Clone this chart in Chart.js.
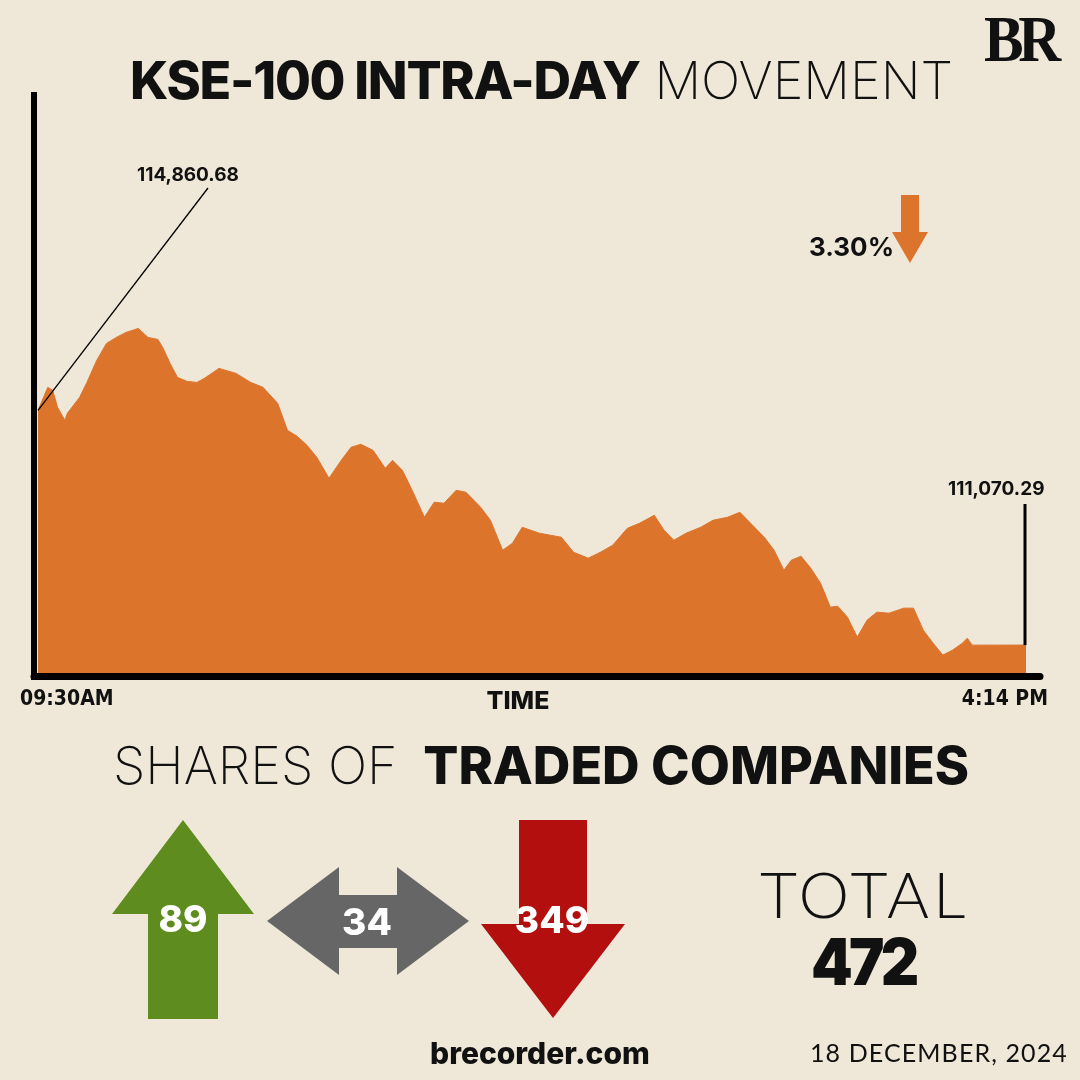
<!DOCTYPE html>
<html>
<head>
<meta charset="utf-8">
<script src="https://cdn.jsdelivr.net/npm/chart.js@4.4.1/dist/chart.umd.min.js"></script>
<style>
  body { margin: 0; background: #efe8d8; }
  #page { position: relative; width: 1080px; height: 1080px; overflow: hidden; background: #efe8d8; font-family: Inter, "Noto Sans", sans-serif; color: #111; }
  .abs { position: absolute; white-space: nowrap; line-height: 1; }
  #chartBox { position: absolute; left: 0; top: 0; width: 1080px; height: 700px; }
  .bold { font-weight: 800; }
  .light { font-weight: 200; }
  .cond { font-family: "Liberation Sans Narrow", "DejaVu Sans Condensed", sans-serif; font-weight: 700; font-size: 21px; }
  .num { color: #fff; font-weight: 800; font-size: 37px; transform: translate(-50%, -50%); }
</style>
</head>
<body>
<div id="page">
  <div id="chartBox"><canvas id="kseChart"></canvas></div>

  <div class="abs" style="left:984px; top:6px; font-family:'Liberation Serif',serif; font-weight:700; font-size:66px; letter-spacing:-6px; transform:scaleX(0.9); transform-origin:left;">BR</div>
  <div class="abs" style="left:130px; top:55px; font-size:52px;"><span class="bold" style="letter-spacing:-1.3px;">KSE-100 INTRA-DAY</span> <span class="light">MOVEMENT</span></div>

  <div class="abs" style="left:137px; top:165px; font-size:19px; font-weight:700;">114,860.68</div>
  <div class="abs" style="left:948px; top:479px; font-size:19px; font-weight:700;">111,070.29</div>
  <div class="abs" style="left:809px; top:234px; font-size:26px; font-weight:700;">3.30%</div>
  <svg class="abs" style="left:0; top:0;" width="1080" height="1080">
    <polygon points="901,195 919,195 919,232 928,232 910,263 892,232 901,232" fill="#dc742c"/>
    <polygon points="183,820 254,914 218,914 218,1019 148,1019 148,914 112,914" fill="#5f8c1e"/>
    <polygon points="267,921 339,867 339,895 397,895 397,867 469,921 397,975 397,948 339,948 339,975" fill="#666666"/>
    <polygon points="519,820 587,820 587,924 625,924 553,1018 481,924 519,924" fill="#b30f0f"/>
  </svg>
  <div class="abs num" style="left:183px; top:918px;">89</div>
  <div class="abs num" style="left:367px; top:921px;">34</div>
  <div class="abs num" style="left:552px; top:919px;">349</div>

  <div class="abs cond" style="left:20px; top:688px;">09:30AM</div>
  <div class="abs" style="left:518px; top:688px; font-size:25px; font-weight:800; transform:translateX(-50%);">TIME</div>
  <div class="abs cond" style="right:32px; top:688px;">4:14 PM</div>

  <div class="abs" style="left:113px; top:740px; font-size:52px;"><span class="light">SHARES OF</span> <span class="bold" style="margin-left:11px;">TRADED COMPANIES</span></div>

  <div class="abs" style="left:760px; top:862px; font-family:Lato,sans-serif; font-weight:300; font-size:64px; letter-spacing:4px;">TOTAL</div>
  <div class="abs" style="left:811px; top:930px; font-size:64px; font-weight:900; letter-spacing:-4px; transform:scaleX(0.93); transform-origin:left;">472</div>
  <div class="abs" style="left:430px; top:1038px; font-size:30px; font-weight:800;">brecorder.com</div>
  <div class="abs" style="left:810px; top:1040px; font-family:Lato,sans-serif; font-size:25px; letter-spacing:1.1px;">18 DECEMBER, 2024</div>
</div>

<script>
// KSE-100 intraday readings
const timeLabels = ['09:30','09:34','09:36','09:38','09:41','09:42','09:47','09:50','09:54','09:58',
  '10:02','10:06','10:11','10:15','10:19','10:21','10:24','10:27','10:31','10:35',
  '10:38','10:44','10:51','10:57','11:02','11:08','11:12','11:16','11:20','11:24',
  '11:29','11:34','11:38','11:42','11:47','11:52','11:55','11:59','12:03','12:08',
  '12:12','12:16','12:21','12:25','12:31','12:35','12:40','12:44','12:48','12:55',
  '13:04','13:09','13:15','13:20','13:25','13:31','13:36','13:42','13:46','13:50',
  '13:55','14:01','14:06','14:12','14:17','14:21','14:27','14:31','14:35','14:38',
  '14:42','14:46','14:50','14:54','14:57','15:01','15:05','15:09','15:13','15:18',
  '15:24','15:28','15:32','15:36','15:40','15:44','15:48','15:50','15:52','16:14'];

const indexValues = [114860.68, 115232, 115183, 114909, 114699, 114812, 115070, 115312, 115667, 115941,
  116038, 116119, 116183, 116038, 116006, 115877, 115619, 115393, 115328, 115312,
  115377, 115538, 115457, 115312, 115232, 114974, 114538, 114441, 114296, 114103,
  113764, 114054, 114264, 114312, 114215, 113925, 114054, 113893, 113570, 113135,
  113377, 113361, 113570, 113538, 113296, 113086, 112602, 112715, 112973, 112877,
  112812, 112570, 112474, 112570, 112683, 112957, 113038, 113167, 112925, 112764,
  112877, 112973, 113086, 113135, 113215, 113054, 112812, 112602, 112280, 112441,
  112506, 112312, 112070, 111683, 111699, 111522, 111199, 111473, 111602, 111586,
  111667, 111667, 111312, 111102, 110909, 110990, 111102, 111183, 111070, 111070.29];

const yMin = 110620;
const yMax = 120000;

// minutes after the 09:30 open, so x can be a plain linear scale
function toMinutes(t) {
    const [h, m] = t.split(':').map(Number);
    return (h * 60 + m) - (9 * 60 + 30);
}

const points = timeLabels.map((t, i) => ({ x: toMinutes(t), y: indexValues[i] }));

// axes + leader lines, drawn on top of the fill
const decorPlugin = {
    id: 'decor',
    afterDatasetsDraw(chart) {
        const c = chart.ctx;
        const area = chart.chartArea;
        const xs = chart.scales.x;
        const ys = chart.scales.y;
        c.save();
        c.strokeStyle = '#000';
        c.lineCap = 'round';
        // bottom axis
        c.lineWidth = 7;
        c.beginPath();
        c.moveTo(area.left - 4, area.bottom + 3.5);
        c.lineTo(area.right + 14, area.bottom + 3.5);
        c.stroke();
        // left axis
        c.lineCap = 'butt';
        c.lineWidth = 6;
        c.beginPath();
        c.moveTo(area.left - 4, area.top);
        c.lineTo(area.left - 4, area.bottom + 7);
        c.stroke();
        // leader to the opening value
        const first = points[0];
        c.lineWidth = 1.3;
        c.beginPath();
        c.moveTo(208, 188);
        c.lineTo(xs.getPixelForValue(first.x), ys.getPixelForValue(first.y));
        c.stroke();
        // marker at the closing value
        const last = points[points.length - 1];
        const lx = xs.getPixelForValue(last.x) - 1;
        c.lineWidth = 3;
        c.beginPath();
        c.moveTo(lx, 504);
        c.lineTo(lx, ys.getPixelForValue(last.y));
        c.stroke();
        c.restore();
    }
};

const ctx = document.getElementById('kseChart');
new Chart(ctx, {
    type: 'line',
    data: {
        datasets: [{
            label: 'KSE-100',
            data: points,
            borderColor: '#dc742c',
            borderWidth: 1,
            backgroundColor: '#dc742c',
            fill: 'start',
            pointRadius: 0,
            tension: 0
        }]
    },
    options: {
        responsive: true,
        maintainAspectRatio: false,
        animation: false,
        layout: { padding: { left: 38, top: 92, right: 54, bottom: 27 } },
        scales: {
            x: { type: 'linear', min: 0, max: toMinutes('16:14'), display: false },
            y: { min: yMin, max: yMax, display: false }
        },
        plugins: {
            legend: { display: false },
            tooltip: { enabled: false }
        }
    },
    plugins: [decorPlugin]
});
</script>
</body>
</html>
